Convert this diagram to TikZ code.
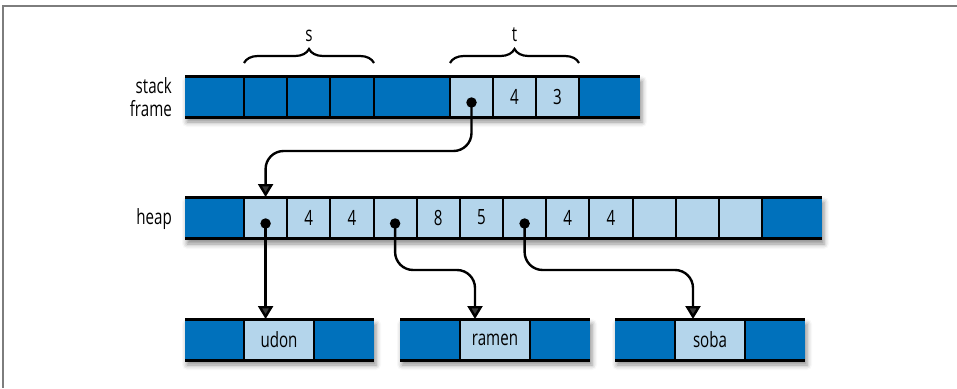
\documentclass[tikz,border=0pt]{standalone}
\usepackage{fontspec}
\setmainfont{Open Sans}[FakeStretch=0.72]
\usetikzlibrary{arrows.meta,calc,decorations.pathreplacing,shadows.blur}
\definecolor{dkblue}{RGB}{0,113,188}
\definecolor{ltblue}{RGB}{180,213,235}
\definecolor{framegray}{RGB}{125,125,125}
\begin{document}
\begin{tikzpicture}[x=1pt,y=-1pt,
  base/.style={rectangle,inner sep=0pt,outer sep=0pt,anchor=north west,minimum height=41pt,font=\fontsize{21}{23}\selectfont},
  dk/.style={base,fill=dkblue},
  lt/.style={base,fill=ltblue},
  rule/.style={line width=3pt,black},
  sep/.style={line width=2pt,black},
  dot/.style={circle,fill=black,inner sep=0pt,minimum size=10.5pt},
  conn/.style={line width=2.4pt,rounded corners=18pt,-{Triangle[width=15pt,length=13pt]}},
  brc/.style={decorate,decoration={brace,amplitude=14pt},line width=2.2pt},
  lbl/.style={font=\fontsize{21}{23}\selectfont,inner sep=0pt},
  shadowrow/.style={fill=white,blur shadow={shadow xshift=2pt,shadow yshift=-5pt,shadow blur radius=5pt,shadow opacity=45}}
]
\useasboundingbox (0,0) rectangle (957,388);
\draw[framegray,line width=2pt] (957,6) -- (3,6) -- (3,388);

% shadows
\path[shadowrow] (185,76) rectangle (640,117);
\path[shadowrow] (185,197) rectangle (822,239);
\path[shadowrow] (185,319) rectangle (374,360);
\path[shadowrow] (400,319) rectangle (590,360);
\path[shadowrow] (615,319) rectangle (805,360);

% stack frame
\node[dk,minimum width=59pt] (s0) at (185,76) {};
\node[dk,minimum width=43pt] (s1) at (244,76) {};
\node[dk,minimum width=43pt] (s2) at (287,76) {};
\node[dk,minimum width=44pt] (s3) at (330,76) {};
\node[dk,minimum width=76pt] (s4) at (374,76) {};
\node[lt,minimum width=43pt] (s5) at (450,76) {};
\node[lt,minimum width=43pt] (s6) at (493,76) {4};
\node[lt,minimum width=43pt] (s7) at (536,76) {3};
\node[dk,minimum width=61pt] (s8) at (579,76) {};
\foreach \i in {0,...,7} \draw[sep] (s\i.north east) -- (s\i.south east);
\draw[rule] (s0.north west) -- (s8.north east);
\draw[rule] (s0.south west) -- (s8.south east);

% heap
\node[dk,minimum width=59pt] (h0) at (185,197) {};
\foreach \i/\t in {1/{},2/4,3/4,4/{},5/8,6/5,7/{},8/4,9/4,10/{},11/{},12/{}}
  \node[lt,minimum width=43.17pt] (h\i) at ({244+43.17*(\i-1)},197) {\t};
\node[dk,minimum width=60pt] (h13) at (762,197) {};
\foreach \i in {0,...,12} \draw[sep] (h\i.north east) -- (h\i.south east);
\draw[rule] (h0.north west) -- (h13.north east);
\draw[rule] (h0.south west) -- (h13.south east);

% strings
\node[dk,minimum width=59pt] (u0) at (185,319) {};
\node[lt,minimum width=70pt] (u1) at (244,319) {udon};
\node[dk,minimum width=60pt] (u2) at (314,319) {};
\node[dk,minimum width=60pt] (r0) at (400,319) {};
\node[lt,minimum width=70pt] (r1) at (460,319) {ramen};
\node[dk,minimum width=60pt] (r2) at (530,319) {};
\node[dk,minimum width=60pt] (o0) at (615,319) {};
\node[lt,minimum width=70pt] (o1) at (675,319) {soba};
\node[dk,minimum width=60pt] (o2) at (745,319) {};
\foreach \r in {u,r,o}{
  \draw[sep] (\r0.north east) -- (\r0.south east);
  \draw[sep] (\r1.north east) -- (\r1.south east);
  \draw[rule] (\r0.north west) -- (\r2.north east);
  \draw[rule] (\r0.south west) -- (\r2.south east);
}

% labels
\node[lbl,anchor=base east] (lstack) at (172,93) {stack};
\node[lbl,anchor=base east] (lframe) at (172,116.5) {frame};
\node[lbl,anchor=base east] (lheap) at (172,224) {heap};
\node[lbl,anchor=base] (ls) at (309,41) {s};
\node[lbl,anchor=base] (lt) at (514.5,41) {t};

% braces
\draw[brc] ($(s1.north west)+(0,-13)$) -- ($(s3.north east)+(0,-13)$);
\draw[brc] ($(s5.north west)+(0,-13)$) -- ($(s7.north east)+(0,-13)$);

% dots
\node[dot] (sd) at ($(s5.center)+(0,6)$) {};
\node[dot] (hd1) at ($(h1.center)+(0,6)$) {};
\node[dot] (hd4) at ($(h4.center)+(0,6)$) {};
\node[dot] (hd7) at ($(h7.center)+(0,6)$) {};

% connectors
\coordinate (m1) at (0,151);
\coordinate (m2) at (0,270);
\coordinate (ra) at ($(r1.north west)+(15,0)$);
\coordinate (oa) at ($(o1.north west)+(18,0)$);
\draw[conn] (sd.center) -- (sd.center |- m1) -| (h1.north);
\draw[conn] (hd1.center) -- (hd1.center |- u1.north);
\draw[conn] (hd4.center) -- (hd4.center |- m2) -| (ra);
\draw[conn] (hd7.center) -- (hd7.center |- m2) -| (oa);
\end{tikzpicture}
\end{document}
